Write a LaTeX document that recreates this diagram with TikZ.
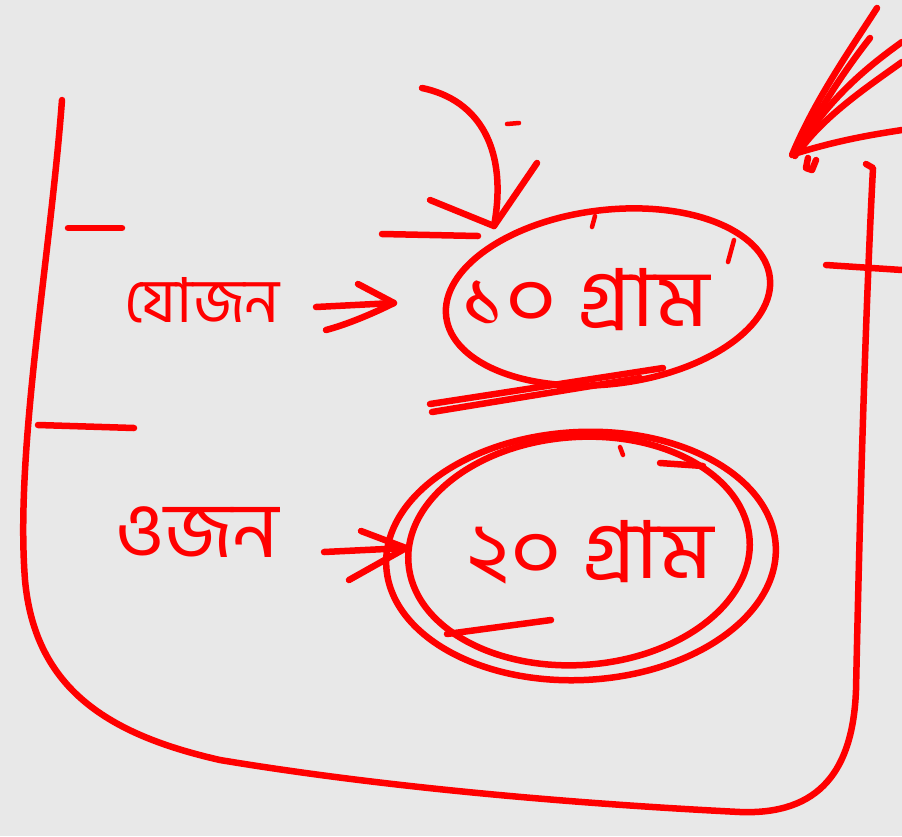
\documentclass[tikz,border=0pt]{standalone}
\usepackage{fontspec}
\newfontfamily\bn[Script=Bengali]{Hind Siliguri}
\usetikzlibrary{shapes.geometric}
\definecolor{bg}{RGB}{232,232,232}
\definecolor{pen}{RGB}{255,0,0}
\tikzset{
  ink/.style={draw=pen, line width=6.5pt, line cap=round, line join=round},
  thin ink/.style={draw=pen, line width=4.5pt, line cap=round, line join=round},
  word/.style={text=pen, inner sep=0pt},
  ring/.style={ink, ellipse, inner sep=0pt}
}
\begin{document}
\begin{tikzpicture}[x=1pt,y=-1pt]
\fill[bg] (0,0) rectangle (902,836);
\useasboundingbox (0,0) rectangle (902,836);

% container
\draw[ink] (62,100) .. controls (50,260) and (15,450) .. (25,580)
  .. controls (35,690) and (110,735) .. (220,760)
  .. controls (400,790) and (600,805) .. (740,812)
  .. controls (820,815) and (853,770) .. (856,690)
  .. controls (860,500) and (866,300) .. (873,168) -- (866,164);

% tick marks
\draw[ink] (68,228) -- (122,228);
\draw[ink] (382,234) -- (478,236);
\draw[ink] (38,425) -- (134,428);
\draw[ink] (826,265) -- (902,270);
\draw[thin ink] (507,124) -- (519,123);

% top-right scribble
\draw[ink] (792,155) .. controls (815,100) and (850,50) .. (877,8);
\draw[ink] (798,152) .. controls (818,110) and (845,70) .. (870,38);
\draw[ink] (795,156) .. controls (825,100) and (870,65) .. (902,42);
\draw[ink] (800,150) .. controls (825,115) and (870,85) .. (902,62);
\draw[ink] (797,153) .. controls (840,140) and (870,135) .. (902,130);
\draw[ink] (808,158) -- (806,168) -- (812,170) -- (816,160);

% words
\node[word, font=\bn\fontsize{62}{70}\selectfont] (t1) at (202,300) {যোজন};
\node[word, font=\bn\fontsize{78}{90}\selectfont, xscale=1.05] (t2) at (197,532) {ওজন};
\node[word, font=\bn\fontsize{80}{90}\selectfont, xscale=1.12] (v1) at (585,300) {১০ গ্রাম};
\node[word, font=\bn\fontsize{80}{90}\selectfont, xscale=1.12] (v2) at (590,552) {২০ গ্রাম};

% rings
\node[ring, minimum width=326pt, minimum height=174pt, rotate=7] (e1) at (608,297) {};
\node[ring, minimum width=342pt, minimum height=228pt, rotate=4] (e2) at (579,551) {};
\node[ring, minimum width=390pt, minimum height=248pt, rotate=3] (e3) at (581,556) {};

% small marks on rings
\draw[thin ink] (595,216) -- (592,227);
\draw[thin ink] (734,240) -- (728,262);
\draw[ink] (660,463) -- (703,466);
\draw[ink] (447,634) -- (551,620);
\draw[thin ink] (620,447) -- (623,455);

% underline
\draw[ink] (430,404) -- (663,368);
\draw[ink] (432,412) -- (640,378);

% arrows
\coordinate (a1s) at (316,307);
\coordinate (a1e) at (394,303);
\draw[ink] (a1s) -- (a1e);
\draw[ink] (358,284) -- (a1e) .. controls (370,315) and (345,325) .. (326,330);

\coordinate (a2s) at (324,552);
\coordinate (a2e) at (406,548);
\draw[ink] (a2s) -- (a2e);
\draw[ink] (361,531) -- (a2e) -- (349,580);

% curved arrow into the top ring
\coordinate (c0) at (422,88);
\coordinate (c1) at (494,226);
\draw[ink] (c0) .. controls (480,100) and (508,150) .. (c1);
\draw[ink] (430,200) -- (c1) -- (537,163);
\end{tikzpicture}
\end{document}
